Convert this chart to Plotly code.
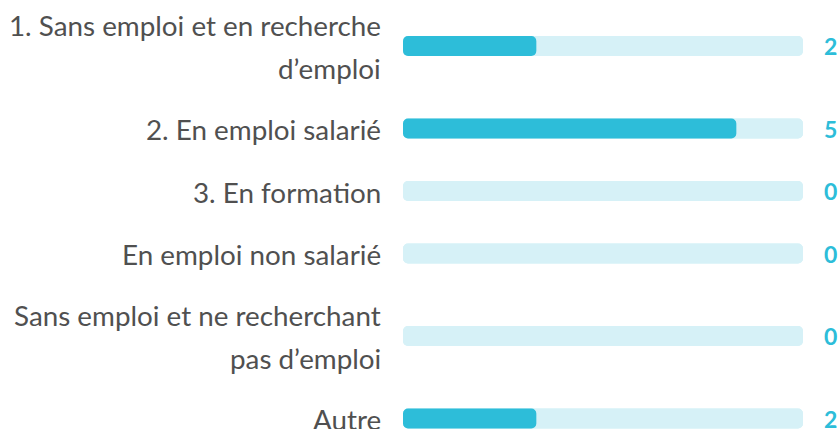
import plotly.graph_objects as go

# Response categories (line breaks follow the wrapped labels) and counts
categories = [
    "1. Sans emploi et en recherche<br>d\u2019emploi",
    "2. En emploi salari\u00e9",
    "3. En forma\u200ction",
    "En emploi non salari\u00e9",
    "Sans emploi et ne recherchant<br>pas d\u2019emploi",
    "Autre",
]
counts = [2, 5, 0, 0, 0, 2]
scale_max = 6

CYAN = "#2DBDD9"
TRACK = "#D6F1F7"
TEXT = "#505050"
FONT = "Lato"

W, H = 839, 429
TEXT_LINE_H = 43     # label line spacing (px)
ROW_BASE = 62.5      # height of a one-line row (px)
ROW_EXTRA = 40       # extra height per additional label line (px)
TOP = -5.25          # top edge of the first row (px)
BAR_H = 20

# Row centres from the number of label lines
lines = [c.split("<br>") for c in categories]
centers = []
y = TOP
for ln in lines:
    h = ROW_BASE + ROW_EXTRA * (len(ln) - 1)
    centers.append(y + h / 2)
    y += h

fig = go.Figure()

# Background track: two halves so both ends get rounded corners
fig.add_trace(go.Bar(
    y=centers, x=[scale_max] * len(counts), base=[0] * len(counts),
    orientation="h", width=BAR_H, marker=dict(color=TRACK, cornerradius=5, line_width=0),
    hoverinfo="skip", showlegend=False,
))
fig.add_trace(go.Bar(
    y=centers, x=[-scale_max] * len(counts), base=[scale_max] * len(counts),
    orientation="h", width=BAR_H, marker=dict(color=TRACK, cornerradius=5, line_width=0),
    hoverinfo="skip", showlegend=False,
))
# Value bars, drawn from the value back to zero so the left end is rounded
fig.add_trace(go.Bar(
    y=centers, x=[-v for v in counts], base=counts,
    orientation="h", width=BAR_H, marker=dict(color=CYAN, cornerradius=5, line_width=0),
    customdata=counts, hovertemplate="%{customdata}<extra></extra>", showlegend=False,
))

annotations = []
for c, ln, v in zip(centers, lines, counts):
    n = len(ln)
    for i, t in enumerate(ln):
        off = (i - (n - 1) / 2) * TEXT_LINE_H
        annotations.append(dict(
            x=0, xref="paper", y=c + off + 1, yref="y", text=t, showarrow=False,
            xanchor="right", yanchor="middle", xshift=-20,
            font=dict(family=FONT, size=27.8, color=TEXT),
        ))
    annotations.append(dict(
        x=1, xref="paper", y=c, yref="y", text=f"<b>{v}</b>", showarrow=False,
        xanchor="left", yanchor="middle", xshift=19,
        font=dict(family=FONT, size=23, color=CYAN),
    ))

fig.update_layout(
    width=W, height=H,
    margin=dict(l=403, r=36, t=0, b=0),
    barmode="overlay",
    paper_bgcolor="white", plot_bgcolor="white",
    xaxis=dict(range=[0, scale_max], visible=False, fixedrange=True),
    yaxis=dict(range=[H, 0], visible=False, fixedrange=True),
    annotations=annotations,
)

fig.write_html("out.html", config={"displayModeBar": False})
